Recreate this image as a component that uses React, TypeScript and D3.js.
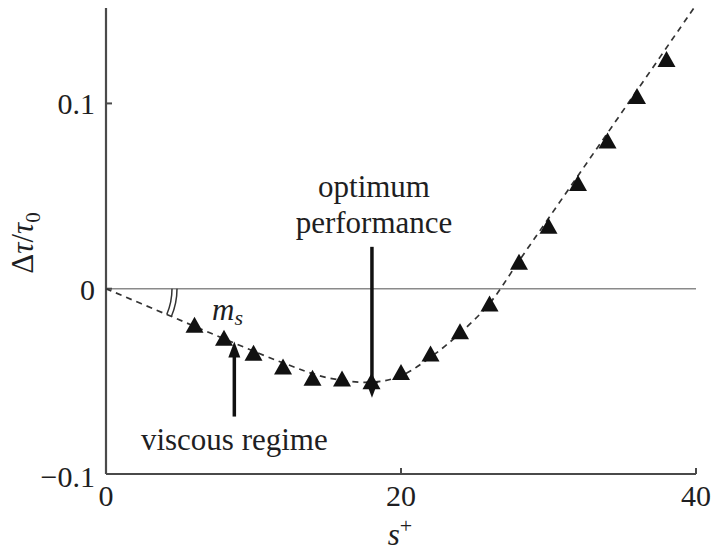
import React from "react";
import * as d3 from "d3";

// Measured drag change versus riblet spacing
const S_PLUS = [6, 8, 10, 12, 14, 16, 18, 20, 22, 24, 26, 28, 30, 32, 34, 36, 38];
const DTAU = [-0.0194, -0.0264, -0.0345, -0.042, -0.048, -0.0485, -0.050, -0.045, -0.035, -0.023, -0.008, 0.0146, 0.034, 0.057, 0.080, 0.104, 0.124];

// Fitted trend (dashed)
const FIT_S = [0, 4, 8, 12, 15, 18, 20, 22, 24, 26, 28, 32, 36, 39.9];
const FIT_V = [0, -0.0135, -0.027, -0.040, -0.048, -0.0505, -0.047, -0.037, -0.024, -0.008, 0.015, 0.061, 0.107, 0.152];

const X_TICKS = [0, 20, 40];
const Y_TICKS = [-0.1, 0, 0.1];

const W = 714;
const H = 554;
const INK = "#1e1e22";

export default function App() {
  const x = d3.scaleLinear().domain([0, 40]).range([106, 696]);
  const y = d3.scaleLinear().domain([-0.1, 0.1515]).range([474, 8]);

  const fit = FIT_S.map((s, i) => [s, FIT_V[i]] as [number, number]);
  const fitPath = d3
    .line<[number, number]>()
    .x((d) => x(d[0]))
    .y((d) => y(d[1]))
    .curve(d3.curveCatmullRom.alpha(0.5))(fit) as string;

  const tri = (cx: number, cy: number) =>
    `M${cx - 9},${cy + 8}L${cx + 9},${cy + 8}L${cx},${cy - 8}Z`;

  // angle of the initial slope of the fit, for the m_s arc marks
  const ox = x(0);
  const oy = y(0);
  const ang = Math.atan2(y(FIT_V[1]) - oy, x(FIT_S[1]) - ox);
  const arcPath = (r: number) =>
    `M${ox + r},${oy}A${r},${r} 0 0 1 ${ox + r * Math.cos(ang)},${oy + r * Math.sin(ang)}`;

  // annotation arrows (data coordinates)
  const viscX = x(8.7);
  const viscBottom = y(-0.069);
  const viscTip = y(-0.0285);
  const optX = x(18.03);
  const optTop = y(0.0226);
  const optTip = y(-0.0588);

  const [x0, x1] = x.range();
  const [yb, yt] = y.range();

  return (
    <svg width={W} height={H} className="fig" style={{ position: "absolute", left: 0, top: 0 }}>
      <style>{`.fig text, .fig tspan { font-family: "Liberation Serif", "Times New Roman", Times !important; }`}</style>
      <rect x={0} y={0} width={W} height={H} fill="#fff" />
      <defs>
        <clipPath id="plot">
          <rect x={x0} y={yt} width={x1 - x0} height={yb - yt} />
        </clipPath>
      </defs>

      {/* zero reference line */}
      <line x1={x0} x2={x1} y1={y(0)} y2={y(0)} stroke="#8a8a8a" strokeWidth={1.6} />

      {/* axes */}
      <line x1={x0} x2={x0} y1={yt} y2={yb} stroke="#4a4a4a" strokeWidth={2.2} />
      <line x1={x0} x2={x1} y1={yb} y2={yb} stroke="#4a4a4a" strokeWidth={2.2} />
      {Y_TICKS.map((t) => (
        <line key={"yt" + t} x1={x0} x2={x0 + 6} y1={y(t)} y2={y(t)} stroke="#4a4a4a" strokeWidth={2} />
      ))}
      {X_TICKS.map((t) => (
        <line key={"xt" + t} x1={x(t)} x2={x(t)} y1={yb} y2={yb - 6} stroke="#4a4a4a" strokeWidth={2} />
      ))}

      <g fontFamily="Liberation Serif" fill={INK}>
        {/* tick labels */}
        {Y_TICKS.map((t) => (
          <text key={"yl" + t} x={x0 - 11} y={y(t) + (t === -0.1 ? 13 : 11)} textAnchor="end" fontSize={30}>
            {t === 0 ? "0" : t < 0 ? "\u2212" + Math.abs(t) : String(t)}
          </text>
        ))}
        {X_TICKS.map((t) => (
          <text key={"xl" + t} x={x(t)} y={yb + 32} textAnchor="middle" fontSize={30}>
            {t}
          </text>
        ))}

        {/* axis titles */}
        <text x={400} y={545} textAnchor="middle" fontSize={31}>
          <tspan fontStyle="italic">s</tspan>
          <tspan dy={-12} fontSize={22}>+</tspan>
        </text>
        <text transform="translate(33,243) rotate(-90)" textAnchor="middle" fontSize={31}>
          <tspan>Δ</tspan>
          <tspan fontStyle="italic">τ</tspan>
          <tspan>/</tspan>
          <tspan fontStyle="italic">τ</tspan>
          <tspan dy={7} fontSize={21}>0</tspan>
        </text>

        <text x={212} y={320} fontSize={31}>
          <tspan fontStyle="italic">m</tspan>
          <tspan dy={5} fontSize={22} fontStyle="italic">s</tspan>
        </text>
        <text x={viscX} y={450} textAnchor="middle" fontSize={31}>
          viscous regime
        </text>
        <text x={374} y={197} textAnchor="middle" fontSize={31}>
          optimum
        </text>
        <text x={374} y={233} textAnchor="middle" fontSize={31}>
          performance
        </text>
      </g>

      {/* fitted dashed curve */}
      <g clipPath="url(#plot)">
        <path d={fitPath} fill="none" stroke="#333" strokeWidth={1.7} strokeDasharray="6 5" />
      </g>

      {/* slope marks */}
      <path d={arcPath(66)} fill="none" stroke="#333" strokeWidth={1.5} />
      <path d={arcPath(71)} fill="none" stroke="#333" strokeWidth={1.5} />

      {/* data markers */}
      {S_PLUS.map((s, i) => (
        <path key={"p" + s} d={tri(x(s), y(DTAU[i]))} fill="#111" />
      ))}

      {/* viscous regime arrow */}
      <line x1={viscX} x2={viscX} y1={viscBottom} y2={viscTip + 10} stroke="#111" strokeWidth={3.5} />
      <path
        d={`M${viscX - 6},${viscTip + 16}L${viscX + 6},${viscTip + 16}L${viscX},${viscTip}Z`}
        fill="#111"
      />

      {/* optimum performance arrow */}
      <line x1={optX} x2={optX} y1={optTop} y2={optTip - 10} stroke="#111" strokeWidth={3.5} />
      <path
        d={`M${optX - 6},${optTip - 16}L${optX + 6},${optTip - 16}L${optX},${optTip}Z`}
        fill="#111"
      />
    </svg>
  );
}
